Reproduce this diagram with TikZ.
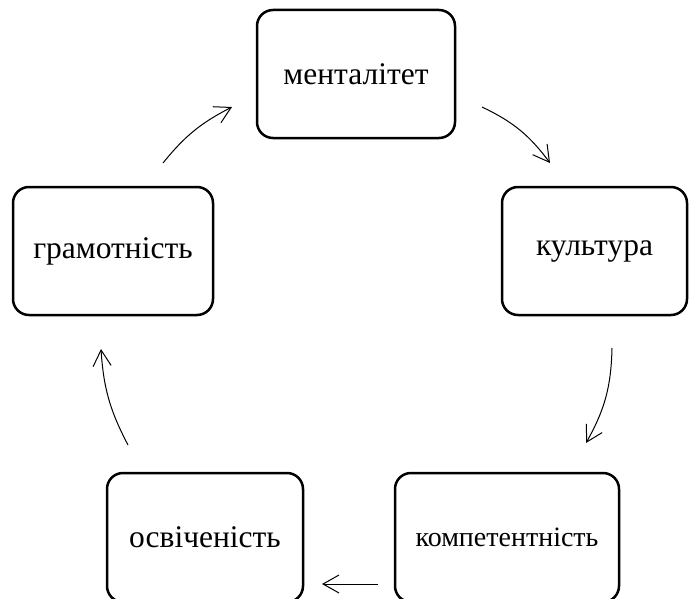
\documentclass[tikz,border=0pt]{standalone}
\usepackage{fontspec}
\setmainfont{Liberation Serif}
\usetikzlibrary{arrows.meta}
\begin{document}
\begin{tikzpicture}[x=1pt,y=-1pt,
  box/.style={draw, line width=2.5pt, rounded corners=16pt, inner sep=0pt},
  lbl/.style={font=\fontsize{31.5}{36}\selectfont},
  conn/.style={line width=1pt, -{Straight Barb[length=16pt,width=18pt,line width=1pt]}}]
\useasboundingbox (0,0) rectangle (690,599);
% boxes
\draw[box] (257,10) rectangle (455,138);
\draw[box] (502,187) rectangle (687,315);
\draw[box] (13,187) rectangle (213,315);
\draw[box] (107,473) rectangle (303,602);
\draw[box] (395,473) rectangle (619,602);
% labels (named nodes)
\node[lbl] (m) at (356,74) {менталітет};
\node[lbl] (k) at (594.5,251) {культура};
\node[lbl] (g) at (113,251) {грамотність};
\node[lbl] (o) at (205,537) {освіченість};
\node[font=\fontsize{28}{32}\selectfont] (c) at (507,537) {компетентність};
% arrow ends
\coordinate (a1s) at (163,163); \coordinate (a1e) at (232,107);
\coordinate (a2s) at (482,107); \coordinate (a2e) at (550,163);
\coordinate (a3s) at (612,348); \coordinate (a3e) at (586,443);
\coordinate (a4s) at (378,584); \coordinate (a4e) at (322,584);
\coordinate (a5s) at (128,445); \coordinate (a5e) at (101,349);
\draw[conn] (a1s) to[bend left=12] (a1e);
\draw[conn] (a2s) to[bend left=14] (a2e);
\draw[conn] (a3s) to[bend left=14] (a3e);
\draw[conn] (a4s) -- (a4e);
\draw[conn] (a5s) to[bend left=12] (a5e);
\end{tikzpicture}
\end{document}
